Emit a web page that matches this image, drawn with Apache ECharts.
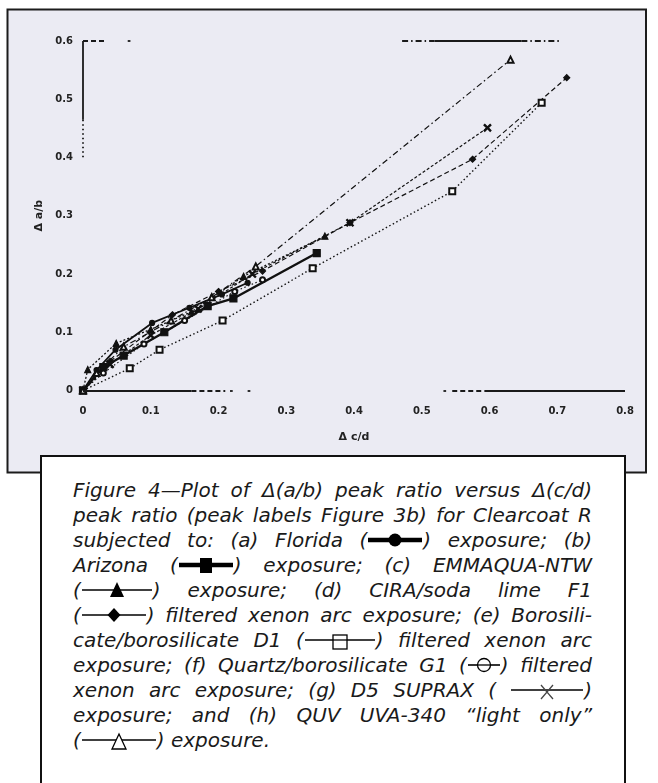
<!DOCTYPE html>
<html>
<head>
<meta charset="utf-8">
<script src="https://cdn.jsdelivr.net/npm/echarts@6/dist/echarts.min.js"></script>
<style>
  html, body { margin: 0; padding: 0; background: #fff; }
  #wrap { position: relative; width: 658px; height: 783px; overflow: hidden; }
  #chart { position: absolute; left: 0; top: 0; width: 658px; height: 783px; }
  #caption {
    position: absolute; left: 40px; top: 455px; width: 586px; height: 340px;
    background: #fff; border: 2.5px solid #111; border-bottom: none;
    box-sizing: border-box;
    padding: 21px 0 0 31px;
    font-family: "DejaVu Sans", "Noto Sans", sans-serif; font-style: italic;
    font-size: 20px; color: #1a1a1a;
  }
  #caption .ln { width: 519px; height: 25px; line-height: 25px; white-space: nowrap;
    text-align: justify; text-align-last: justify; }
  #caption .ln.last { text-align-last: left; }
  #caption svg { vertical-align: -3px; }
</style>
</head>
<body>
<div id="wrap">
  <div id="chart"></div>
  <div id="caption"></div>
</div>
<script>
// ---- axis ticks ----
const xTickValues = [0, 0.1, 0.2, 0.3, 0.4, 0.5, 0.6, 0.7, 0.8];
const yTickValues = [0, 0.1, 0.2, 0.3, 0.4, 0.5, 0.6];

// ---- series: [Δ(c/d), Δ(a/b)] ----
const florida   = [[0,0],[0.02,0.035],[0.048,0.07],[0.102,0.116],[0.157,0.142],[0.205,0.165],[0.243,0.185]];
const arizona   = [[0,0],[0.03,0.04],[0.06,0.06],[0.12,0.1],[0.184,0.145],[0.222,0.158],[0.345,0.236]];
const emmaqua   = [[0,0],[0.007,0.036],[0.049,0.081],[0.1,0.105],[0.16,0.135],[0.237,0.196],[0.357,0.265]];
const ciraF1    = [[0,0],[0.04,0.05],[0.132,0.13],[0.2,0.17],[0.265,0.205],[0.394,0.288],[0.575,0.397],[0.714,0.537]];
const boroD1    = [[0,0],[0.069,0.038],[0.113,0.07],[0.206,0.12],[0.339,0.21],[0.545,0.342],[0.677,0.494]];
const quartzG1  = [[0,0],[0.03,0.03],[0.09,0.08],[0.15,0.12],[0.224,0.17],[0.265,0.19]];
const d5Suprax  = [[0,0],[0.04,0.045],[0.1,0.095],[0.17,0.14],[0.25,0.2],[0.394,0.288],[0.597,0.451]];
const quvUva340 = [[0,0],[0.02,0.03],[0.06,0.075],[0.13,0.12],[0.19,0.16],[0.255,0.213],[0.631,0.568]];

// ---- partial plot frame pieces: [x1, y1, x2, y2, style] ----
const framePieces = [
  [0, 0.6, 0, 0.465, 'solid'],
  [0, 0.465, 0, 0.4, 'dot'],
  [0, 0.6, 0.032, 0.6, 'dash'],
  [0.066, 0.6, 0.07, 0.6, 'solid'],
  [0.471, 0.6, 0.519, 0.6, 'dashdot'],
  [0.519, 0.6, 0.647, 0.6, 'solid'],
  [0.647, 0.6, 0.706, 0.6, 'dashdot'],
  [0.802, 0.514, 0.802, 0.437, 'dot'],
  [0.802, 0.437, 0.802, 0.237, 'solid'],
  [0.802, 0.237, 0.802, 0.142, 'dashdot'],
  [0, 0, 0.16, 0, 'solid'],
  [0.16, 0, 0.21, 0, 'dash'],
  [0.217, 0, 0.221, 0, 'solid'],
  [0.243, 0, 0.247, 0, 'solid'],
  [0.4, -0.004, 0.4, -0.01, 'solid'],
  [0.532, 0, 0.536, 0, 'solid'],
  [0.545, 0, 0.593, 0, 'dash'],
  [0.593, 0, 0.8, 0, 'solid']
];

const dashTypes = { solid: 'solid', dot: [1.5, 3], dash: [5, 3], dashdot: [6, 3, 1.5, 3] };

const crossPath = 'path://M0,1.2 L1.2,0 L5,3.8 L8.8,0 L10,1.2 L6.2,5 L10,8.8 L8.8,10 L5,6.2 L1.2,10 L0,8.8 L3.8,5 Z';

function lineSeries(name, data, symbol, size, lineType, width) {
  return {
    name, type: 'line', data, symbol, symbolSize: size,
    showSymbol: true, animation: false, z: 3,
    lineStyle: { color: '#111', width, type: lineType },
    itemStyle: { color: '#111', borderColor: '#111', borderWidth: 1.2 }
  };
}

const series = [
  lineSeries('Florida', florida, 'circle', 5, 'solid', 1.8),
  lineSeries('Arizona', arizona, 'rect', 7, 'solid', 2.4),
  lineSeries('EMMAQUA-NTW', emmaqua, 'triangle', 6, [2, 2], 1.3),
  lineSeries('CIRA/soda lime F1', ciraF1, 'diamond', 6, [5, 3], 1.2),
  lineSeries('Borosilicate/borosilicate D1', boroD1, 'emptyRect', 6, [1.5, 2.5], 1.4),
  lineSeries('Quartz/borosilicate G1', quartzG1, 'emptyCircle', 5, [1.5, 2.5], 1.2),
  lineSeries('D5 SUPRAX', d5Suprax, crossPath, 7, [3, 2], 1.2),
  lineSeries('QUV UVA-340', quvUva340, 'emptyTriangle', 6, [6, 3, 1.5, 3], 1.2)
];

series.push({
  type: 'line', data: [], silent: true, animation: false, z: 2,
  markLine: {
    silent: true, symbol: ['none', 'none'], animation: false,
    label: { show: false },
    data: framePieces.map(p => [
      { coord: [p[0], p[1]], lineStyle: { color: '#1a1a1a', width: 1.8, type: dashTypes[p[4]] } },
      { coord: [p[2], p[3]] }
    ])
  }
});

const tickFmt = v => (v === 0 ? '0' : v.toFixed(1));
const axisText = { color: '#222', fontSize: 10, fontWeight: 'bold', fontFamily: 'DejaVu Sans' };

const chart = echarts.init(document.getElementById('chart'), null, { renderer: 'canvas' });
chart.setOption({
  animation: false,
  graphic: [{
    type: 'rect', z: -10, silent: true,
    shape: { x: 7.5, y: 9.5, width: 638.5, height: 463 },
    style: { fill: '#ebebf3', stroke: '#1c1c1c', lineWidth: 2 }
  }],
  grid: { left: 83, top: 41, width: 542, height: 349.5, containLabel: false },
  xAxis: {
    type: 'value', min: xTickValues[0], max: xTickValues[xTickValues.length - 1], interval: 0.1,
    name: 'Δ c/d', nameLocation: 'middle', nameGap: 41,
    nameTextStyle: { color: '#222', fontSize: 11, fontWeight: 'bold', fontFamily: 'DejaVu Sans' },
    axisLine: { show: false }, axisTick: { show: false }, splitLine: { show: false },
    axisLabel: Object.assign({ margin: 16, formatter: tickFmt }, axisText)
  },
  yAxis: {
    type: 'value', min: yTickValues[0], max: yTickValues[yTickValues.length - 1], interval: 0.1,
    name: 'Δ a/b', nameLocation: 'middle', nameGap: 38, nameRotate: 90,
    nameTextStyle: { color: '#222', fontSize: 11, fontWeight: 'bold', fontFamily: 'DejaVu Sans' },
    axisLine: { show: false }, axisTick: { show: false }, splitLine: { show: false },
    axisLabel: Object.assign({ margin: 10, formatter: tickFmt }, axisText)
  },
  series
});

// ---- caption with inline line/marker keys ----
function key(w, marker, thick) {
  const cy = 10, cx = w / 2;
  const lw = thick ? 4.5 : 1.6;
  let m = '';
  if (marker === 'circle') m = `<circle cx="${cx}" cy="${cy}" r="6.5" fill="#000"/>`;
  if (marker === 'square') m = `<rect x="${cx - 6}" y="${cy - 7}" width="12" height="15" fill="#000"/>`;
  if (marker === 'triangle') m = `<path d="M${cx},${cy - 8} L${cx + 7},${cy + 7} L${cx - 7},${cy + 7} Z" fill="#000"/>`;
  if (marker === 'diamond') m = `<path d="M${cx},${cy - 7} L${cx + 6.5},${cy} L${cx},${cy + 7} L${cx - 6.5},${cy} Z" fill="#000"/>`;
  if (marker === 'emptySquare') m = `<rect x="${cx - 7}" y="${cy - 5}" width="14" height="14" fill="#fff" stroke="#000" stroke-width="1.3"/><line x1="${cx - 7}" y1="${cy}" x2="${cx + 7}" y2="${cy}" stroke="#000" stroke-width="1.3"/>`;
  if (marker === 'emptyCircle') m = `<circle cx="${cx}" cy="${cy}" r="6.5" fill="#fff" stroke="#000" stroke-width="1.3"/><line x1="${cx - 6.5}" y1="${cy}" x2="${cx + 6.5}" y2="${cy}" stroke="#000" stroke-width="1.3"/>`;
  if (marker === 'cross') m = `<path d="M${cx - 6},${cy - 5} L${cx + 6},${cy + 9} M${cx + 6},${cy - 5} L${cx - 6},${cy + 9}" stroke="#444" stroke-width="1.3" fill="none"/>`;
  if (marker === 'emptyTriangle') m = `<path d="M${cx},${cy - 6} L${cx + 7},${cy + 9} L${cx - 7},${cy + 9} Z" fill="#fff" stroke="#000" stroke-width="1.3"/>`;
  return `<svg width="${w}" height="20" viewBox="0 0 ${w} 20"><line x1="1" y1="${cy}" x2="${w - 1}" y2="${cy}" stroke="#000" stroke-width="${lw}"/>${m}</svg>`;
}

const captionLines = [
  'Figure 4—Plot of <i>Δ</i>(a/b) peak ratio versus <i>Δ</i>(c/d)',
  'peak ratio (peak labels Figure 3b) for Clearcoat R',
  'subjected to: (a) Florida (' + key(56, 'circle', true) + ') exposure; (b)',
  'Arizona (' + key(56, 'square', true) + ') exposure; (c) EMMAQUA-NTW',
  '(' + key(72, 'triangle') + ') exposure; (d) CIRA/soda lime F1',
  '(' + key(66, 'diamond') + ') filtered xenon arc exposure; (e) Borosili-',
  'cate/borosilicate D1 (' + key(72, 'emptySquare') + ') filtered xenon arc',
  'exposure; (f) Quartz/borosilicate G1 (' + key(34, 'emptyCircle') + ') filtered',
  'xenon arc exposure; (g) D5 SUPRAX ( ' + key(74, 'cross') + ')',
  'exposure; and (h) QUV UVA-340 “light only”',
  '(' + key(76, 'emptyTriangle') + ') exposure.'
];

const cap = document.getElementById('caption');
cap.innerHTML = captionLines
  .map((t, i) => `<div class="ln${i === captionLines.length - 1 ? ' last' : ''}"><span>${t}</span></div>`)
  .join('');

// tighten any line whose natural width exceeds the column
cap.querySelectorAll('.ln').forEach(ln => {
  const span = ln.firstChild;
  const natural = span.getBoundingClientRect().width;
  const chars = span.textContent.length;
  if (natural > 517 && chars > 0) {
    const spaces = (span.textContent.match(/ /g) || []).length;
    const ws = Math.min(3, spaces ? (natural - 515) / spaces : 0);
    ln.style.wordSpacing = (-ws).toFixed(2) + 'px';
    const rest = natural - 515 - ws * spaces;
    if (rest > 0) ln.style.letterSpacing = (-rest / chars).toFixed(2) + 'px';
  }
});
</script>
</body>
</html>
